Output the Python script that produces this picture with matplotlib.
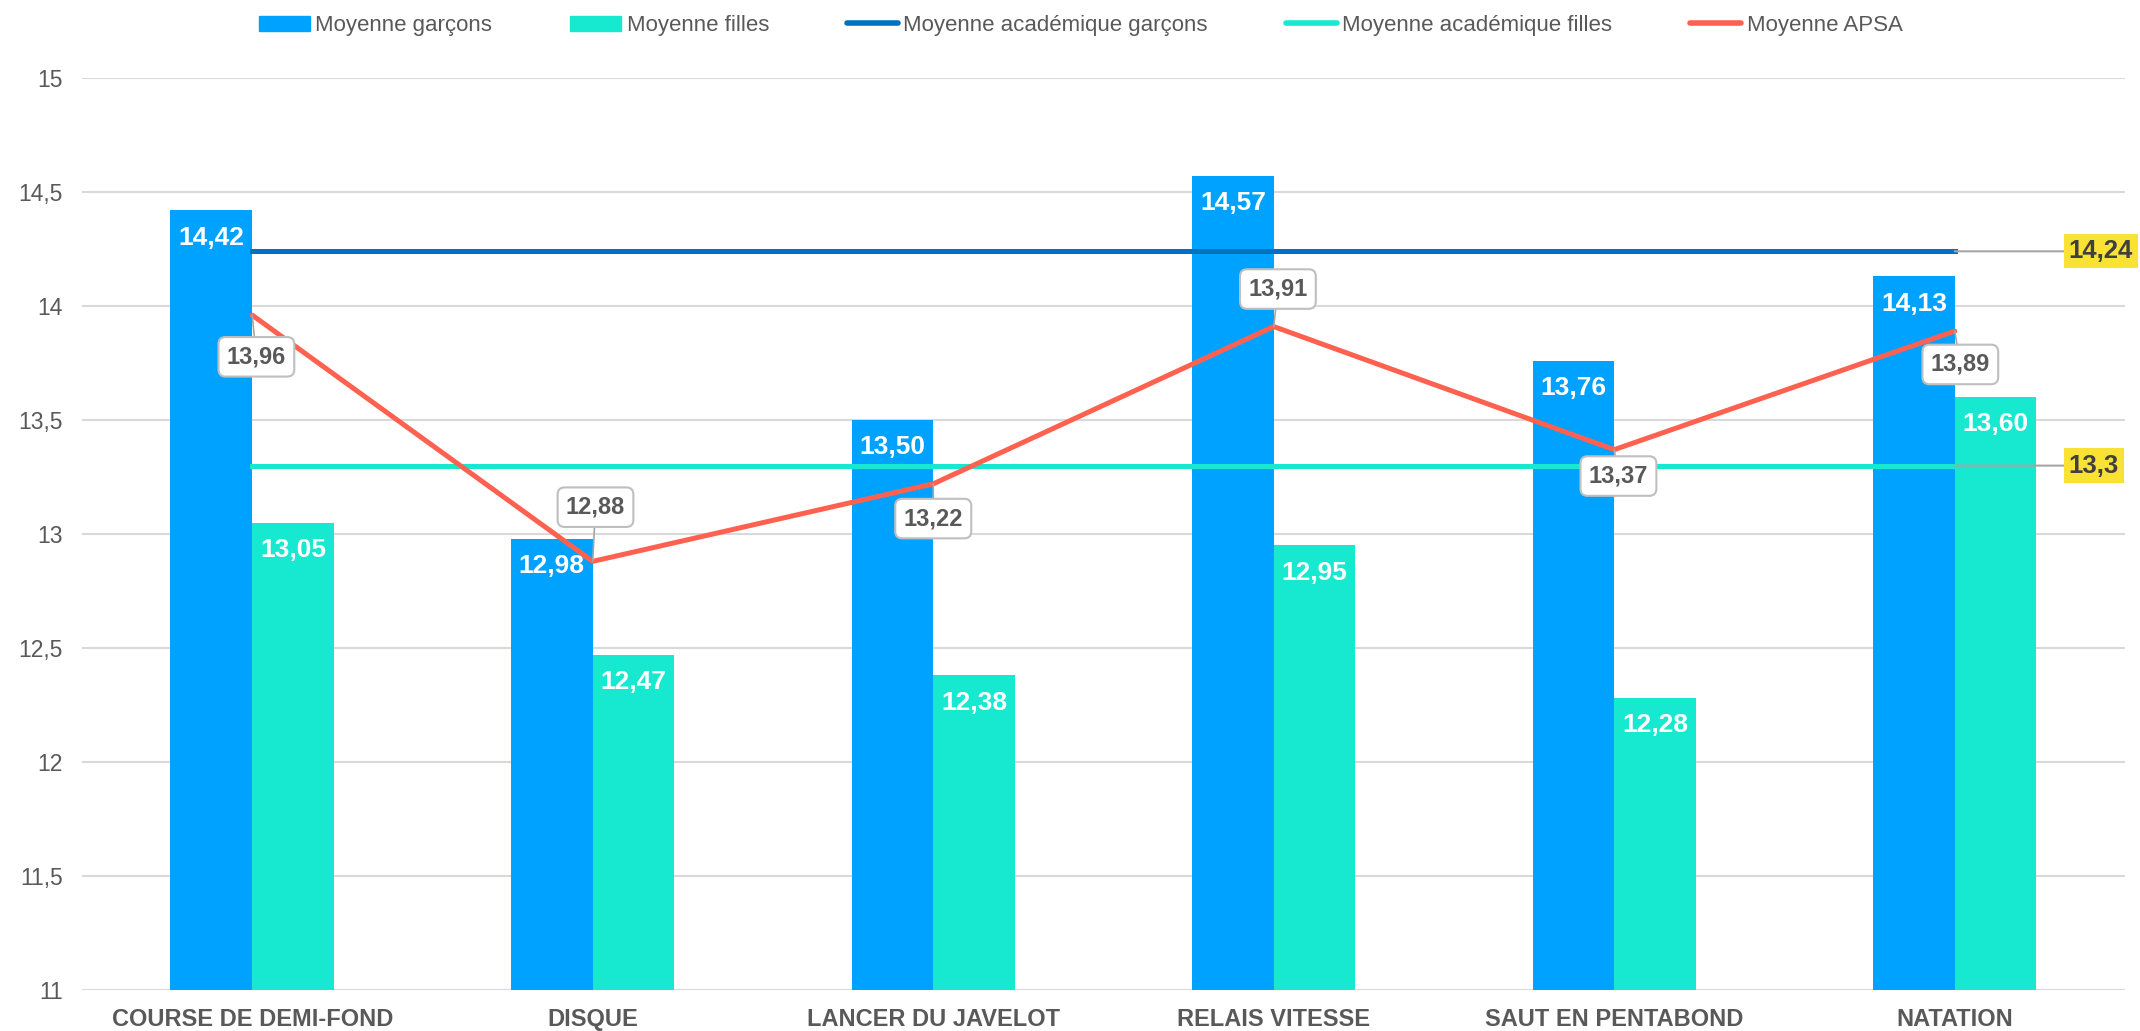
import matplotlib.pyplot as plt
import numpy as np
from matplotlib.lines import Line2D
from matplotlib.patches import Patch

plt.rcParams["font.family"] = ["Liberation Sans", "DejaVu Sans"]

categories = ["COURSE DE DEMI-FOND", "DISQUE", "LANCER DU JAVELOT",
              "RELAIS VITESSE", "SAUT EN PENTABOND", "NATATION"]
boys = [14.42, 12.98, 13.50, 14.57, 13.76, 14.13]
girls = [13.05, 12.47, 12.38, 12.95, 12.28, 13.60]
apsa = [13.96, 12.88, 13.22, 13.91, 13.37, 13.89]
acad_boys = 14.24
acad_girls = 13.3
yticks = [11, 11.5, 12, 12.5, 13, 13.5, 14, 14.5, 15]

# callout offsets (points) for the APSA labels
apsa_offsets = [(3, -30), (2, 39), (0, -25), (3, 27), (3, -19), (4, -24)]

C_BOYS = "#00A2FF"
C_GIRLS = "#17E8D0"
C_ACAD_B = "#0070C0"
C_APSA = "#FF6150"
GRID = "#D9D9D9"
TXT = "#595959"

fig = plt.figure(figsize=(21.4, 10.31), dpi=100)
ax = fig.add_axes([0.0383, 0.0398, 0.9547, 0.8845])

x = np.arange(len(categories))
w = 0.24
ax.bar(x - w / 2, boys, width=w, color=C_BOYS, zorder=2)
ax.bar(x + w / 2, girls, width=w, color=C_GIRLS, zorder=2)

for xi, v in zip(x - w / 2, boys):
    ax.annotate(f"{v:.2f}".replace(".", ","), (xi, v), xytext=(0, -11),
                textcoords="offset points", ha="center", va="top",
                color="white", fontsize=19, fontweight="bold", zorder=5)
for xi, v in zip(x + w / 2, girls):
    ax.annotate(f"{v:.2f}".replace(".", ","), (xi, v), xytext=(0, -11),
                textcoords="offset points", ha="center", va="top",
                color="white", fontsize=19, fontweight="bold", zorder=5)

# academic reference lines
ax.plot([x[0], x[-1]], [acad_boys, acad_boys], color=C_ACAD_B, lw=3.6, zorder=3)
ax.plot([x[0], x[-1]], [acad_girls, acad_girls], color=C_GIRLS, lw=3.6, zorder=3)
for val in (acad_boys, acad_girls):
    ax.annotate(f"{val:g}".replace(".", ","), (x[-1], val), xytext=(5.335, val),
                textcoords="data", ha="left", va="center",
                fontsize=18.5, fontweight="bold", color="#404040",
                bbox=dict(boxstyle="square,pad=0.2", fc="#F9E233", ec="none"),
                arrowprops=dict(arrowstyle="-", color="#A6A6A6", lw=1.5,
                                shrinkA=0, shrinkB=0),
                annotation_clip=False, zorder=6)

# APSA line
ax.plot(x, apsa, color=C_APSA, lw=3.6, zorder=4, solid_capstyle="round")
for xi, v, off in zip(x, apsa, apsa_offsets):
    ax.annotate(f"{v:.2f}".replace(".", ","), (xi, v), xytext=off,
                textcoords="offset points", ha="center", va="center",
                fontsize=17, fontweight="bold", color=TXT,
                bbox=dict(boxstyle="round,pad=0.35,rounding_size=0.3",
                          fc="white", ec="#BFBFBF", lw=1.5),
                arrowprops=dict(arrowstyle="-", color="#A6A6A6", lw=1.2,
                                shrinkA=0, shrinkB=0),
                zorder=7)

ax.set_xlim(-0.5, len(categories) - 0.5)
ax.set_ylim(11, 15)
ax.set_yticks(yticks)
ax.set_yticklabels([f"{t:g}".replace(".", ",") for t in yticks])
ax.set_xticks(x)
ax.set_xticklabels(categories, fontweight="bold")
ax.tick_params(axis="y", length=0, pad=14, labelsize=16.5, labelcolor=TXT)
ax.tick_params(axis="x", length=0, pad=13, labelsize=17, labelcolor=TXT)
ax.grid(axis="y", color=GRID, lw=1.5, zorder=0)
ax.set_axisbelow(True)
for s in ax.spines.values():
    s.set_visible(False)

handles = [
    Patch(color=C_BOYS, label="Moyenne garçons"),
    Patch(color=C_GIRLS, label="Moyenne filles"),
    Line2D([], [], color=C_ACAD_B, lw=4, solid_capstyle="round",
           label="Moyenne académique garçons"),
    Line2D([], [], color=C_GIRLS, lw=4, solid_capstyle="round",
           label="Moyenne académique filles"),
    Line2D([], [], color=C_APSA, lw=4, solid_capstyle="round",
           label="Moyenne APSA"),
]
leg = fig.legend(handles=handles, loc="center", bbox_to_anchor=(0.505, 0.975),
                 ncol=5, frameon=False, fontsize=16, handlelength=2.3,
                 handletextpad=0.25, columnspacing=3.5)
for t in leg.get_texts():
    t.set_color(TXT)

fig.savefig("out.png", dpi=100)
